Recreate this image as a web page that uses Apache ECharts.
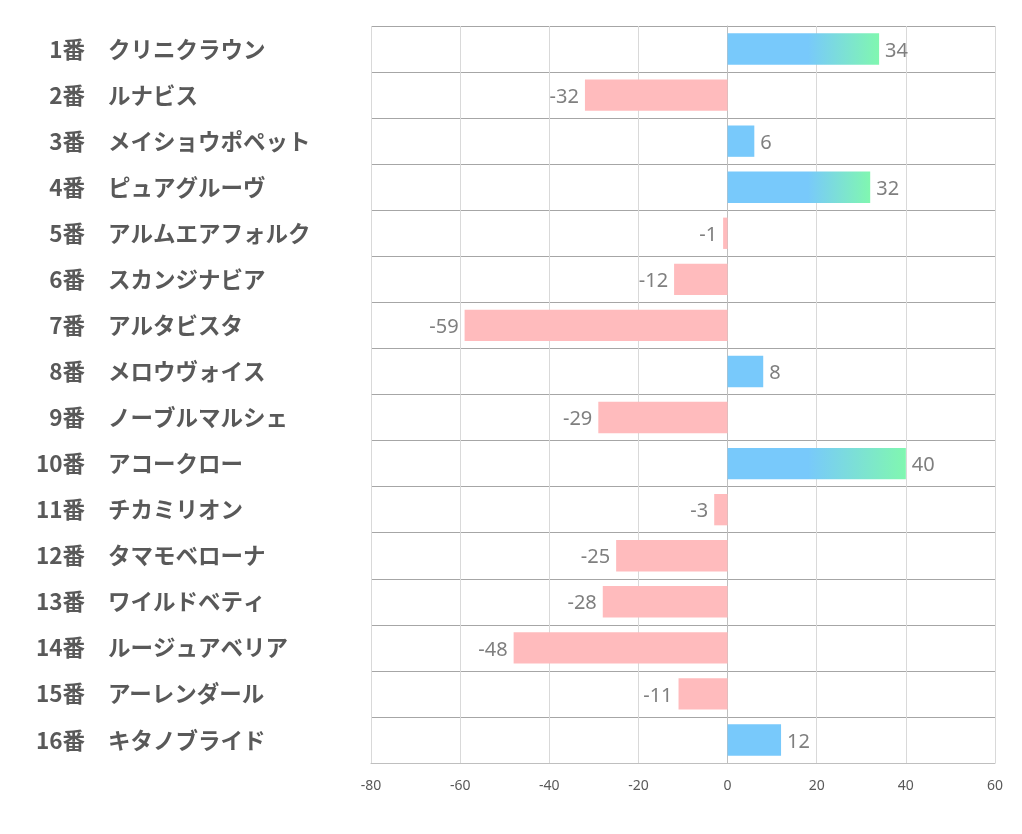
<!DOCTYPE html>
<html><head><meta charset="utf-8">
<script src="https://cdn.jsdelivr.net/npm/echarts@6/dist/echarts.min.js"></script>
<style>html,body{margin:0;padding:0;background:#fff}#c{width:1022px;height:834px}</style>
</head><body><div id="c"></div>
<script>
const numbers = ['1番','2番','3番','4番','5番','6番','7番','8番','9番','10番','11番','12番','13番','14番','15番','16番'];
const names = ['クリニクラウン','ルナビス','メイショウポペット','ピュアグルーヴ','アルムエアフォルク','スカンジナビア','アルタビスタ','メロウヴォイス','ノーブルマルシェ','アコークロー','チカミリオン','タマモベローナ','ワイルドベティ','ルージュアベリア','アーレンダール','キタノブライド'];
const values = [34, -32, 6, 32, -1, -12, -59, 8, -29, 40, -3, -25, -28, -48, -11, 12];
const axisTicks = [-80, -60, -40, -20, 0, 20, 40, 60];

const BLUE = '#78c9fb', GREEN = '#80f7b0', PINK = '#ffbbbd';
const data = values.map(v => {
  let color;
  if (v < 0) color = PINK;
  else if (v > 20) color = new echarts.graphic.LinearGradient(0, 0, 1, 0, [
    {offset: 0, color: BLUE}, {offset: 18 / v, color: BLUE}, {offset: 1, color: GREEN}]);
  else color = BLUE;
  return {value: v, itemStyle: {color}, label: {position: v < 0 ? 'left' : 'right'}};
});

const labelFont = {fontSize: 22.5, fontWeight: 'bold', color: '#595959', fontFamily: 'Noto Sans CJK JP'};
const chart = echarts.init(document.getElementById('c'));
chart.setOption({
  animation: false,
  grid: {left: 371, right: 27, top: 26, bottom: 71, containLabel: false},
  xAxis: {
    type: 'value', min: axisTicks[0], max: axisTicks[axisTicks.length - 1], interval: 20,
    axisLine: {show: true, lineStyle: {color: '#bfbfbf'}},
    axisTick: {show: false},
    splitLine: {show: true, lineStyle: {color: '#d9d9d9'}},
    axisLabel: {color: '#595959', fontSize: 14, margin: 16, fontFamily: 'Noto Sans'}
  },
  yAxis: [{
    type: 'category', data: names, inverse: true,
    axisLine: {show: true, lineStyle: {color: '#bfbfbf'}},
    axisTick: {show: false},
    splitLine: {show: true, lineStyle: {color: '#a6a6a6'}},
    axisLabel: Object.assign({align: 'left', margin: 263}, labelFont)
  }, {
    type: 'category', data: numbers, inverse: true, position: 'left',
    axisLine: {show: false}, axisTick: {show: false}, splitLine: {show: false},
    axisLabel: Object.assign({align: 'right', margin: 286}, labelFont)
  }],
  series: [{
    type: 'bar', data: data, barCategoryGap: '32%', yAxisIndex: 0,
    label: {show: true, color: '#7f7f7f', fontSize: 20, distance: 6, offset: [0, 2], fontFamily: 'Noto Sans'}
  }],
  graphic: [
    {type: 'line', shape: {x1: 371, y1: 26.5, x2: 995, y2: 26.5}, style: {stroke: '#a6a6a6', lineWidth: 1}},
    {type: 'line', shape: {x1: 995.5, y1: 26, x2: 995.5, y2: 763}, style: {stroke: '#d9d9d9', lineWidth: 1}}
  ]
});
</script></body></html>
